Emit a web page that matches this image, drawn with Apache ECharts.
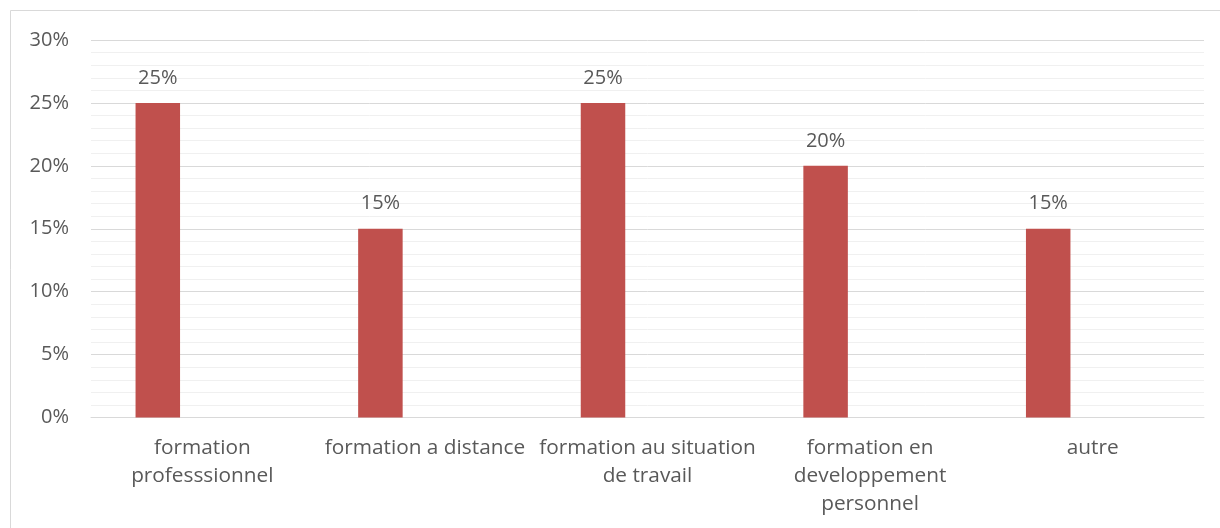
<!DOCTYPE html>
<html>
<head>
<meta charset="utf-8">
<script src="https://cdn.jsdelivr.net/npm/echarts@6/dist/echarts.min.js"></script>
<style>
  html, body { margin: 0; padding: 0; background: #fff; }
  #chart { width: 1220px; height: 528px; }
</style>
</head>
<body>
<div id="chart"></div>
<script>
// Categories (with line breaks as they wrap under the axis)
const categories = [
  'formation\nprofesssionnel',
  'formation a distance',
  'formation au situation\nde travail',
  'formation en\ndeveloppement\npersonnel',
  'autre'
];
// Share of responses, in percent
const values = [25, 15, 25, 20, 15];
// Two unused companion series that keep their slots in each category
const emptyA = [null, null, null, null, null];
const emptyB = [null, null, null, null, null];
// Value axis range and step (percent)
const axisMin = 0;
const axisMax = 30;
const axisStep = 5;

const FONT = '"Open Sans", Lato, sans-serif';
const TEXT = '#595959';
const SIZE = 20;
const CAT_SIZE = 20.8;

const chart = echarts.init(document.getElementById('chart'), null, { renderer: 'canvas' });

chart.setOption({
  animation: false,
  backgroundColor: '#ffffff',
  graphic: [{
    type: 'rect',
    shape: { x: 10.5, y: 10.5, width: 1300, height: 700 },
    style: { fill: 'none', stroke: '#d9d9d9', lineWidth: 1 },
    silent: true,
    z: -1
  }],
  grid: { left: 91, right: 16, top: 40, bottom: 110.5, containLabel: false },
  xAxis: {
    type: 'category',
    data: categories,
    axisLine: { show: true, lineStyle: { color: '#d9d9d9', width: 1 } },
    axisTick: { show: false },
    axisLabel: {
      interval: 0,
      color: TEXT,
      fontFamily: FONT,
      fontSize: CAT_SIZE,
      lineHeight: 28,
      margin: 17
    },
    splitLine: { show: false }
  },
  yAxis: {
    type: 'value',
    min: axisMin,
    max: axisMax,
    interval: axisStep,
    axisLine: { show: false },
    axisTick: { show: false },
    axisLabel: {
      color: TEXT,
      fontFamily: FONT,
      fontSize: SIZE,
      margin: 22,
      formatter: v => v + '%'
    },
    splitLine: { show: true, lineStyle: { color: '#d9d9d9', width: 1 } },
    minorTick: { show: false, splitNumber: 5 },
    minorSplitLine: { show: true, lineStyle: { color: '#f0f0f0', width: 1 } }
  },
  series: [
    {
      type: 'bar',
      data: values,
      barWidth: 44.5,
      barGap: '0%',
      itemStyle: { color: '#C0504D' },
      label: {
        show: true,
        position: 'top',
        distance: 15,
        color: TEXT,
        fontFamily: FONT,
        fontSize: SIZE,
        formatter: p => p.value + '%'
      }
    },
    { type: 'bar', data: emptyA, barWidth: 44.5, barGap: '0%' },
    { type: 'bar', data: emptyB, barWidth: 44.5, barGap: '0%' }
  ]
});
</script>
</body>
</html>
